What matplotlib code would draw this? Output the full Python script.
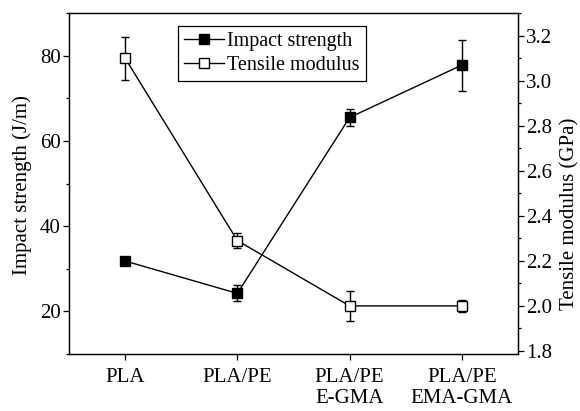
import numpy as np
import matplotlib
matplotlib.use("Agg")
import matplotlib.pyplot as plt
from matplotlib.lines import Line2D
from matplotlib.ticker import MultipleLocator

plt.rcParams.update({
    "font.family": ["Liberation Serif", "DejaVu Serif"],
    "font.size": 15,
    "axes.linewidth": 0.9,
    "xtick.direction": "out",
    "ytick.direction": "out",
})

categories = ["PLA", "PLA/PE", "PLA/PE\nE-GMA", "PLA/PE\nEMA-GMA"]
impact = [31.8, 24.2, 65.5, 77.8]
impact_err = [0.0, 1.9, 2.1, 6.0]
modulus = [3.10, 2.29, 2.00, 2.00]
modulus_err = [0.095, 0.035, 0.066, 0.027]

x = np.arange(len(categories))

fig = plt.figure(figsize=(5.8, 4.11), dpi=100)
ax = fig.add_axes([0.119, 0.139, 0.774, 0.829])
ax2 = ax.twinx()

style = dict(color="black", lw=1.0, marker="s", markersize=6.5, capsize=3.2,
             elinewidth=1.0, capthick=1.0, markeredgewidth=1.0)
ax.errorbar(x, impact, yerr=impact_err, markerfacecolor="black", **style)
ax2.errorbar(x, modulus, yerr=modulus_err, markerfacecolor="white", **style)

ax.set_xlim(-0.5, 3.5)
ax.set_ylim(10, 90)
ax2.set_ylim(1.787, 3.3)
ax.set_xticks(x)
ax.set_xticklabels(categories, linespacing=1.15)
ax.yaxis.set_major_locator(MultipleLocator(20))
ax.yaxis.set_minor_locator(MultipleLocator(10))
ax2.yaxis.set_major_locator(MultipleLocator(0.2))
ax2.yaxis.set_minor_locator(MultipleLocator(0.1))
ax2.yaxis.set_major_formatter(plt.FormatStrFormatter("%.1f"))
for a in (ax, ax2):
    a.tick_params(which="major", length=4, width=0.9, pad=2)
    a.tick_params(which="minor", length=2.5, width=0.9)
ax.tick_params(axis="x", length=4, pad=6)

ax.set_ylabel("Impact strength (J/m)")
ax.yaxis.set_label_coords(-0.082, 0.495)
ax2.set_ylabel("Tensile modulus (GPa)")
ax2.yaxis.set_label_coords(1.094, 0.41)

# legend without error bars, as in the reference
handles = [
    Line2D([], [], color="black", lw=1.0, marker="s", markersize=6.5,
           markerfacecolor="black"),
    Line2D([], [], color="black", lw=1.0, marker="s", markersize=6.5,
           markerfacecolor="white"),
]
leg = ax.legend(handles, ["Impact strength", "Tensile modulus"],
                loc="upper left", bbox_to_anchor=(0.243, 0.963),
                fancybox=False, framealpha=1, edgecolor="black",
                fontsize=14.5, handlelength=2.0, handletextpad=0.15,
                borderpad=0.3, labelspacing=0.25, borderaxespad=0)
leg.get_frame().set_linewidth(0.9)

fig.savefig("out.png", dpi=100)
